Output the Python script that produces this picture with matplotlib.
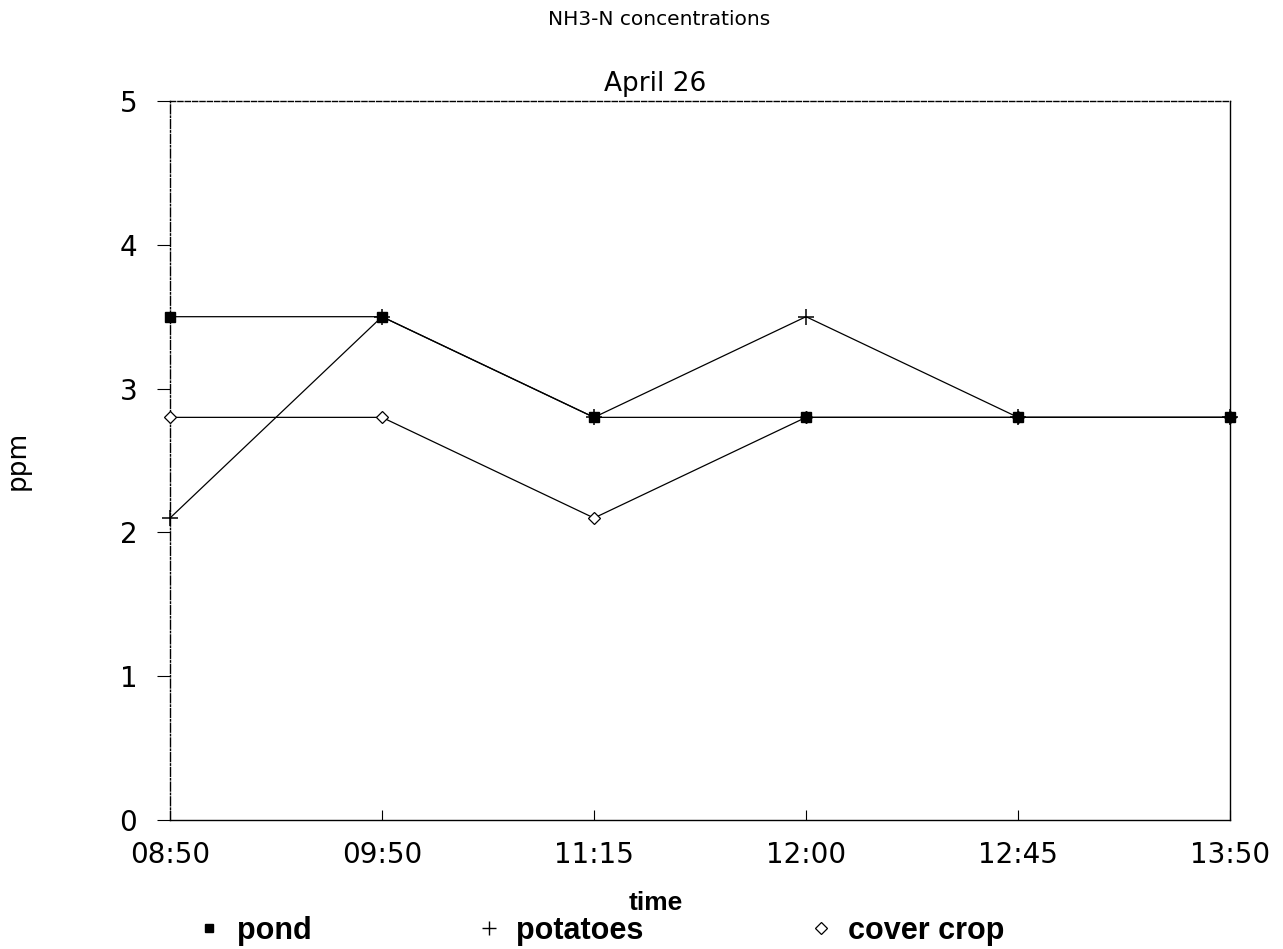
import matplotlib.pyplot as plt
from matplotlib.lines import Line2D

plt.rcParams['font.family'] = ['DejaVu Sans']

# sample times and NH3-N readings (ppm)
times = ['08:50', '09:50', '11:15', '12:00', '12:45', '13:50']
pond = [3.5, 3.5, 2.8, 2.8, 2.8, 2.8]
potatoes = [2.1, 3.5, 2.8, 3.5, 2.8, 2.8]
cover_crop = [2.8, 2.8, 2.1, 2.8, 2.8, 2.8]

narrow = ['Liberation Sans', 'DejaVu Sans']

fig = plt.figure(figsize=(12.83, 9.49), dpi=100)
ax = fig.add_axes([0.1325, 0.1359, 0.8262, 0.7577])

x = list(range(len(times)))
ax.plot(x, cover_crop, color='black', lw=0.9, marker='D', ms=6,
        mfc='white', mec='black', mew=0.9, clip_on=False, zorder=3)
ax.plot(x, potatoes, color='black', lw=0.9, marker='+', ms=11, mew=1.1,
        clip_on=False, zorder=4)
ax.plot(x, pond, color='black', lw=0.9, marker='s', ms=7, mfc='black',
        mec='black', clip_on=False, zorder=5)

ax.set_xlim(0, 5)
ax.set_ylim(0, 5)
ax.set_xticks(x)
ax.set_xticklabels(times)
ax.set_yticks([0, 1, 2, 3, 4, 5])
ax.tick_params(axis='x', direction='in', length=7.5, labelsize=20, pad=15)
ax.tick_params(axis='y', direction='out', length=9.5, labelsize=20, pad=14)

ax.spines['left'].set_linestyle('-.')
ax.spines['top'].set_linestyle('--')
for s in ax.spines.values():
    s.set_linewidth(1.0)

ax.set_xlabel('time', fontsize=19, family=narrow, fontweight='bold')
ax.xaxis.set_label_coords(0.458, -0.099)

fig.text(0.014, 0.515, 'ppm', rotation=90, ha='center', va='center',
         fontsize=19)
fig.text(0.514, 0.979, 'NH3-N concentrations', ha='center', va='center',
         fontsize=14.5)
fig.text(0.511, 0.912, 'April 26', ha='center', va='center', fontsize=19)

handles = [
    Line2D([], [], ls='none', marker='s', ms=6, mfc='black', mec='black'),
    Line2D([], [], ls='none', marker='+', ms=10, mew=1.0, color='black'),
    Line2D([], [], ls='none', marker='D', ms=6, mfc='white', mec='black',
           mew=0.9),
]
labels = ['pond', 'potatoes', 'cover crop']
fig.legend(handles, labels, loc='center', bbox_to_anchor=(0.467, 0.019),
           ncol=3, frameon=False, handlelength=1.0, handletextpad=0.4,
           columnspacing=5.3,
           prop={'family': narrow, 'weight': 'bold', 'size': 22})

fig.savefig('out.png', dpi=100)
